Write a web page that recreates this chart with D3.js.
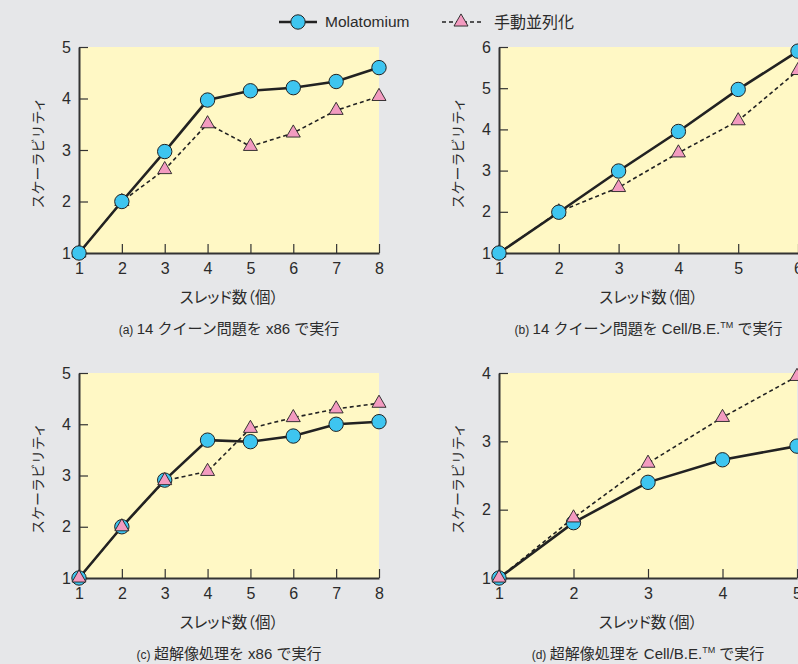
<!DOCTYPE html>
<html>
<head>
<meta charset="utf-8">
<script src="https://cdn.jsdelivr.net/npm/d3@7"></script>
<style>
  body { margin: 0; background: #e6e7e9; }
  svg { display: block; }
  text { fill: #2b2b2b; }
  .jp { font-family: 'Liberation Sans', 'Noto Sans CJK JP', sans-serif; }
  .palt { font-feature-settings: "palt"; }
</style>
</head>
<body>
<svg id="chart" width="798" height="664"></svg>
<script>
// data
const threadsA = [1, 2, 3, 4, 5, 6, 7, 8];
const molaA = [1, 2.0, 2.97, 3.97, 4.15, 4.21, 4.33, 4.6];
const manualA = [1, 2.0, 2.62, 3.51, 3.07, 3.33, 3.77, 4.04];

const threadsB = [1, 2, 3, 4, 5, 6];
const molaB = [1, 1.99, 2.99, 3.95, 4.97, 5.9];
const manualB = [1, 2.0, 2.59, 3.43, 4.21, 5.43];

const threadsC = [1, 2, 3, 4, 5, 6, 7, 8];
const molaC = [1, 2.0, 2.91, 3.69, 3.66, 3.77, 4.0, 4.05];
const manualC = [1, 2.0, 2.9, 3.08, 3.92, 4.13, 4.3, 4.41];

const threadsD = [1, 2, 3, 4, 5];
const molaD = [1, 1.81, 2.4, 2.73, 2.93];
const manualD = [1, 1.88, 2.68, 3.35, 3.95];

const xTitle = "スレッド数（個）";
const yTitle = "スケーラビリティ";
const seriesNames = ["Molatomium", "手動並列化"];

const blue = "#3ec5f0";
const pink = "#f39bc0";
const ink = "#222";

const svg = d3.select("#chart");
const triangle = d3.symbol().type(d3.symbolTriangle).size(85);

function drawPanel(p) {
  const x = d3.scaleLinear().domain([p.threads[0], p.threads[p.threads.length - 1]]).range([p.left, p.right]);
  const y = d3.scaleLinear().domain(p.yDomain).range([p.bottom, p.top]);
  const g = svg.append("g");

  g.append("rect")
    .attr("x", p.left).attr("y", p.top)
    .attr("width", p.right - p.left).attr("height", p.bottom - p.top)
    .attr("fill", "#fff8c5");

  const xAxis = g.append("g")
    .attr("transform", `translate(0,${p.bottom})`)
    .call(d3.axisBottom(x).tickValues(p.threads).tickFormat(d3.format("d")).tickSize(-9).tickPadding(10).tickSizeOuter(0));
  const yAxis = g.append("g")
    .attr("transform", `translate(${p.left},0)`)
    .call(d3.axisLeft(y).ticks(p.yDomain[1] - p.yDomain[0]).tickFormat(d3.format("d")).tickSize(-9).tickPadding(8).tickSizeOuter(0));

  [xAxis, yAxis].forEach((a) => {
    a.select(".domain").attr("stroke", "#333").attr("stroke-width", 2);
    a.selectAll(".tick line").attr("stroke", "#333").attr("stroke-width", 1.2);
    a.selectAll(".tick text")
      .attr("fill", "#2b2b2b")
      .style("font-family", "'Liberation Sans', Arial, sans-serif")
      .style("font-size", "16px");
  });

  const cx = (p.left + p.right) / 2;
  g.append("text")
    .attr("class", "jp palt")
    .attr("x", cx).attr("y", p.bottom + 50)
    .attr("text-anchor", "middle")
    .style("font-size", "15.5px")
    .text(xTitle);

  const cap = g.append("text")
    .attr("class", "jp")
    .attr("x", cx).attr("y", p.bottom + 81)
    .attr("text-anchor", "middle")
    .style("font-size", "15px");
  p.caption.forEach((part) => {
    const t = cap.append("tspan").text(part.t);
    if (part.small) t.style("font-size", "12px");
    if (part.sup) t.attr("dy", -6).style("font-size", "9px");
    if (part.after) t.attr("dy", 6);
  });

  g.append("text")
    .attr("class", "jp")
    .attr("transform", `translate(${p.left - 36},${(p.top + p.bottom) / 2 + 3}) rotate(-90)`)
    .attr("text-anchor", "middle")
    .style("font-size", "14px")
    .text(yTitle);

  const line = d3.line().x((d) => x(d[0])).y((d) => y(d[1]));
  const molaPts = p.threads.map((t, i) => [t, p.mola[i]]);
  const manPts = p.threads.map((t, i) => [t, p.manual[i]]);

  g.append("path").datum(manPts).attr("d", line)
    .attr("fill", "none").attr("stroke", ink).attr("stroke-width", 1.6).attr("stroke-dasharray", "4,3");
  g.append("path").datum(molaPts).attr("d", line)
    .attr("fill", "none").attr("stroke", ink).attr("stroke-width", 2.6);

  const drawCircles = () => g.append("g").selectAll("circle").data(molaPts).join("circle")
    .attr("cx", (d) => x(d[0])).attr("cy", (d) => y(d[1])).attr("r", 7.2)
    .attr("fill", blue).attr("stroke", ink).attr("stroke-width", 1);
  const drawTriangles = () => g.append("g").selectAll("path").data(manPts).join("path")
    .attr("d", triangle)
    .attr("transform", (d) => `translate(${x(d[0])},${y(d[1])})`)
    .attr("fill", pink).attr("stroke", ink).attr("stroke-width", 0.9);

  if (p.trianglesOnTop) { drawCircles(); drawTriangles(); }
  else { drawTriangles(); drawCircles(); }
}

drawPanel({ threads: threadsA, mola: molaA, manual: manualA, yDomain: [1, 5],
  left: 79, right: 379, top: 47, bottom: 253, trianglesOnTop: false,
  caption: [{ t: "(a) ", small: true }, { t: "14 クイーン問題を x86 で実行" }] });
drawPanel({ threads: threadsB, mola: molaB, manual: manualB, yDomain: [1, 6],
  left: 499, right: 798, top: 47, bottom: 253, trianglesOnTop: false,
  caption: [{ t: "(b) ", small: true }, { t: "14 クイーン問題を Cell/B.E." }, { t: "TM", sup: true }, { t: " で実行", after: true }] });
drawPanel({ threads: threadsC, mola: molaC, manual: manualC, yDomain: [1, 5],
  left: 79, right: 379, top: 373, bottom: 578, trianglesOnTop: true,
  caption: [{ t: "(c) ", small: true }, { t: "超解像処理を x86 で実行" }] });
drawPanel({ threads: threadsD, mola: molaD, manual: manualD, yDomain: [1, 4],
  left: 499, right: 797, top: 373, bottom: 578, trianglesOnTop: true,
  caption: [{ t: "(d) ", small: true }, { t: "超解像処理を Cell/B.E." }, { t: "TM", sup: true }, { t: " で実行", after: true }] });

// legend
const legend = svg.append("g").attr("transform", "translate(0,22)");
legend.append("line").attr("x1", 279).attr("x2", 317).attr("stroke", ink).attr("stroke-width", 2.6);
legend.append("circle").attr("cx", 298).attr("r", 7.2).attr("fill", blue).attr("stroke", ink).attr("stroke-width", 1);
legend.append("text").attr("x", 325).attr("y", 5)
  .style("font-family", "'Liberation Sans', Arial, sans-serif").style("font-size", "15.5px").text(seriesNames[0]);
legend.append("line").attr("x1", 442).attr("x2", 482).attr("stroke", ink).attr("stroke-width", 1.6).attr("stroke-dasharray", "4,3");
legend.append("path").attr("d", triangle).attr("transform", "translate(461,0)")
  .attr("fill", pink).attr("stroke", ink).attr("stroke-width", 0.9);
legend.append("text").attr("class", "jp").attr("x", 494).attr("y", 6)
  .style("font-size", "16px").text(seriesNames[1]);
</script>
</body>
</html>
